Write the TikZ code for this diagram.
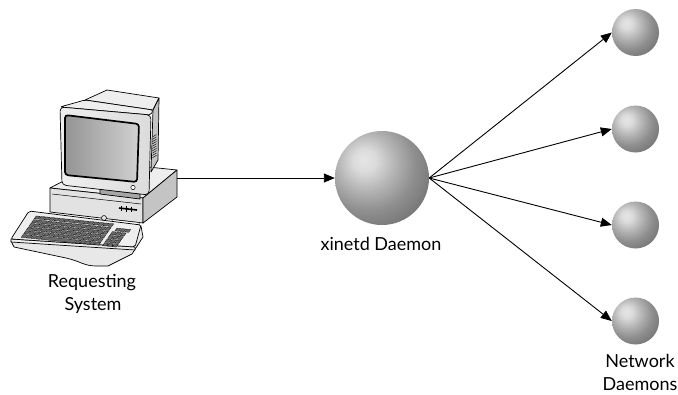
\documentclass[tikz,border=0pt]{standalone}
\usepackage{fontspec}
\setmainfont{Lato}
\usetikzlibrary{arrows.meta}

% grey sphere, lit from the upper left
\pgfdeclareradialshading{daemonball}{\pgfpoint{-10bp}{10bp}}{%
  color(0bp)=(black!10); color(6bp)=(black!14); color(15bp)=(black!29);
  color(25bp)=(black!44); color(35bp)=(black!54); color(47bp)=(black!62);
  color(100bp)=(black!64)}

\definecolor{topface}{HTML}{EEEEEE}
\definecolor{frontface}{HTML}{E2E2E2}
\definecolor{sideface}{HTML}{C4C4C4}
\definecolor{keycap}{HTML}{6A6A6A}

\begin{document}
\begin{tikzpicture}[x=1pt,y=-1pt,
  daemon/.style={circle, shading=daemonball, minimum size=94pt, inner sep=0pt},
  netd/.style={circle, shading=daemonball, minimum size=47pt, inner sep=0pt},
  arr/.style={-{Triangle[length=11pt,width=9pt]}, line width=0.9pt},
  lbl/.style={font=\fontsize{18}{22}\selectfont, inner sep=0pt, anchor=base},
  part/.style={draw=black, line width=0.7pt, line join=round},
  keyst/.style={fill=keycap, draw=black, line width=0.25pt}]
\useasboundingbox (0,0) rectangle (678,394);

% ---------- desktop case ----------
\draw[part, fill=topface] (50,188) -- (143,198) -- (177,170) -- (100,162) -- cycle;
\draw[part, fill=frontface] (50,188) -- (143,198) -- (143,223) -- (50,212) -- cycle;
\draw[part, fill=sideface] (143,198) -- (177,170) -- (177,197) -- (143,223) -- cycle;
\draw[line width=0.5pt] (52,194) -- (141,204);
\draw[line width=1.6pt] (119,208) -- (137,210);
\draw[line width=0.5pt] (121,205.5) -- (121,211) (126,206) -- (126,211.5) (131,206.5) -- (131,212);
\draw[line width=0.5pt, fill=frontface] (104,218) circle (2.5pt);
\draw[line width=0.5pt, fill=white] (112,219.5) -- (139,222.5) -- (139,225) -- (112,222) -- cycle;
\coordinate (pc) at (177,178);

% ---------- monitor ----------
\draw[part, fill=black!35] (100,189) -- (140,194) -- (140,199) -- (100,194) -- cycle;
\draw[part, fill=topface] (85,100) -- (107,90) -- (159,98) -- (153,110) -- cycle;
\draw[part, fill=sideface] (153,110) -- (159,98) -- (158,160) -- (151,172) -- cycle;
\foreach \i in {0,...,9}
  \draw[line width=0.45pt] (152.5,137+2.3*\i) -- (156.5,134.5+2.3*\i);
\draw[part, fill=topface, rounded corners=2pt] (60,107) -- (85,100) -- (153,110) -- (151,115) -- cycle;
\draw[part, rounded corners=4pt, left color=black!6, right color=black!14]
  (60,107) -- (151,115) -- (149,195) -- (62,185) -- cycle;
\draw[rounded corners=3pt, line width=1.7pt, left color=black!42, right color=black!18]
  (65,115) -- (139,124) -- (137,182) -- (65,175) -- cycle;
\draw[line width=0.5pt, fill=white] (133,187.5) circle (2.2pt);

% ---------- keyboard ----------
\draw[part, fill=black!9]
  (11,241) -- (14,247) -- (66,258) .. controls (80,261) and (84,266) .. (96,266)
  -- (108,266) -- (132,254) -- (143,237) -- (141,226) -- cycle;
\draw[part, fill=topface] (11,239) -- (11,242) -- (135,250) -- (135,247) -- cycle;
\draw[part, fill=topface, rounded corners=2pt] (29,211) -- (141,225) -- (135,247) -- (11,239) -- cycle;
\begin{scope}[shift={(36,215.5)}, x={(4.9pt,-0.5pt)}, y={(-2.6pt,-3.7pt)}]
  % function row
  \foreach \c in {0,...,15}
    \path[keyst] (\c+0.1,0.1) -- (\c+0.9,0.1) -- (\c+0.9,0.85) -- (\c+0.1,0.85) -- cycle;
  % main block
  \foreach \r in {1,...,4}
    \foreach \c in {0,...,15}
      \path[keyst] (\c+0.1,\r+0.1) -- (\c+0.9,\r+0.1) -- (\c+0.9,\r+0.9) -- (\c+0.1,\r+0.9) -- cycle;
  \foreach \c in {0,1,2,3,11,12,13,14,15}
    \path[keyst] (\c+0.1,5.1) -- (\c+0.9,5.1) -- (\c+0.9,5.9) -- (\c+0.1,5.9) -- cycle;
  \path[keyst] (4.1,5.1) -- (10.9,5.1) -- (10.9,5.9) -- (4.1,5.9) -- cycle;
  % indicator keys and numeric pad
  \foreach \c in {17,18,19}
    \path[keyst] (\c+0.1,1.1) -- (\c+0.9,1.1) -- (\c+0.9,1.85) -- (\c+0.1,1.85) -- cycle;
  \foreach \r in {2,...,5}
    \foreach \c in {16.6,17.6,18.6}
      \path[keyst] (\c+0.1,\r+0.1) -- (\c+0.9,\r+0.1) -- (\c+0.9,\r+0.9) -- (\c+0.1,\r+0.9) -- cycle;
\end{scope}

% ---------- daemons ----------
\node[daemon] (xd) at (382,178) {};
\node[netd] (n1) at (635.5,32.5) {};
\node[netd] (n2) at (635.5,129) {};
\node[netd] (n3) at (635.5,225) {};
\node[netd] (n4) at (635.5,321) {};

% ---------- connectors ----------
\draw[arr] (pc) -- (xd);
\draw[arr] (xd.east) -- (n1.west);
\draw[arr] (xd.east) -- (n2.west);
\draw[arr] (xd.east) -- (n3.west);
\draw[arr] (xd.east) -- (n4.west);

% ---------- labels ----------
\node[lbl] (l1) at (92,287) {Requesting};
\node[lbl] (l2) at (93,310) {System};
\node[lbl] (l3) at (381,250) {xinetd Daemon};
\node[lbl] (l4) at (640,367) {Network};
\node[lbl] (l5) at (640,390) {Daemons};
\end{tikzpicture}
\end{document}
